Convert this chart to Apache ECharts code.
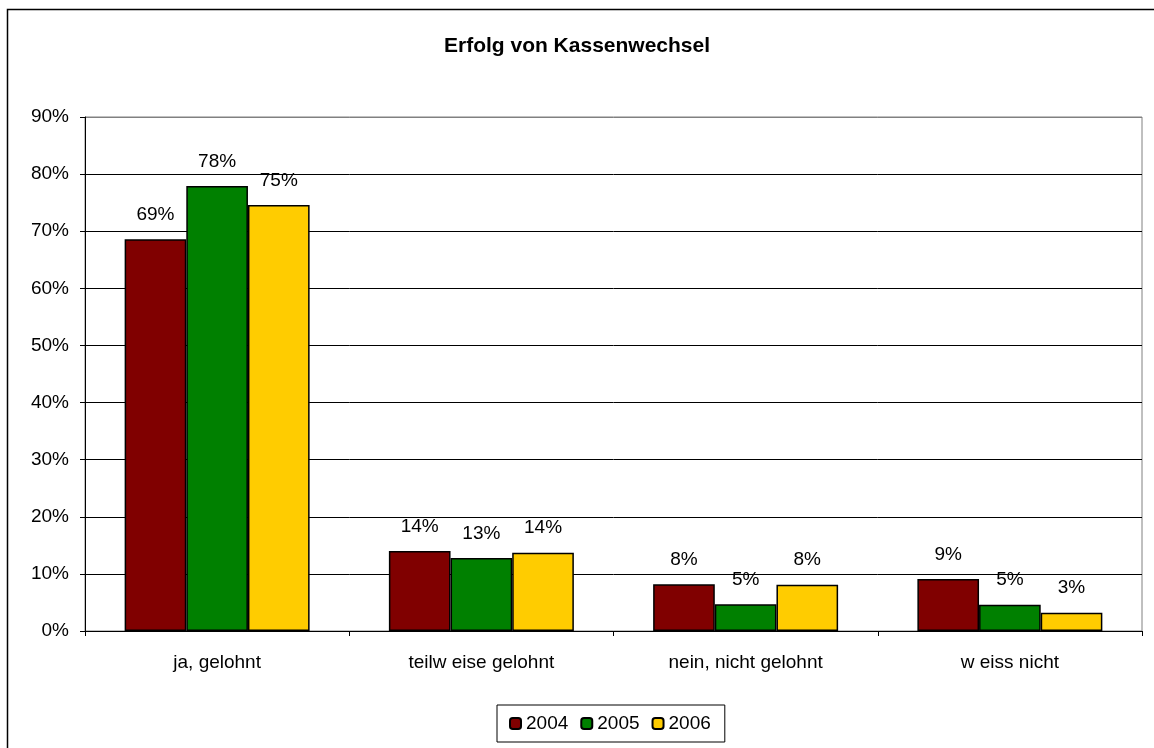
<!DOCTYPE html>
<html>
<head>
<meta charset="utf-8">
<script src="https://cdn.jsdelivr.net/npm/echarts@6/dist/echarts.min.js"></script>
<style>
html,body{margin:0;padding:0;background:#fff;}
#chart{width:1154px;height:748px;}
</style>
</head>
<body>
<div id="chart"></div>
<script>
var categories = ['ja, gelohnt', 'teilw eise gelohnt', 'nein, nicht gelohnt', 'w eiss nicht'];
var years = ['2004', '2005', '2006'];
var values2004 = [0.686, 0.140, 0.082, 0.091];
var values2005 = [0.779, 0.128, 0.047, 0.046];
var values2006 = [0.746, 0.137, 0.081, 0.032];
var colors = ['#800000', '#008000', '#FFCC00'];

var font = 'Liberation Sans, Arial, sans-serif';
var chart = echarts.init(document.getElementById('chart'));
var allValues = [values2004, values2005, values2006];
var series = years.map(function (y, i) {
  return {
    name: y,
    type: 'bar',
    data: allValues[i],
    barGap: '0%',
    barCategoryGap: '30%',
    itemStyle: { color: colors[i], borderColor: '#000', borderWidth: 1.5 },
    label: {
      show: true, position: 'top', distance: 15,
      fontFamily: font, fontSize: 19, color: '#000',
      formatter: function (p) { return Math.round(p.value * 100) + '%'; }
    }
  };
});

var splitColors = ['#000','#000','#000','#000','#000','#000','#000','#000','#000','#808080'];

chart.setOption({
  animation: false,
  title: {
    text: 'Erfolg von Kassenwechsel', left: 'center', top: 31,
    textStyle: { fontFamily: font, fontSize: 21, fontWeight: 'bold', color: '#000' }
  },
  legend: {
    data: years, bottom: 6, left: 497,
    itemWidth: 11, itemHeight: 11, itemGap: 12,
    padding: [9, 14, 9, 12],
    borderColor: '#000', borderWidth: 1,
    textStyle: { fontFamily: font, fontSize: 19, color: '#000' }
  },
  grid: { left: 85, right: 12, top: 117, bottom: 117, show: true, borderColor: '#808080', borderWidth: 1 },
  xAxis: {
    type: 'category', data: categories,
    axisLine: { lineStyle: { color: '#000', width: 1 } },
    axisTick: { show: true, alignWithLabel: false, length: 5, lineStyle: { color: '#000' } },
    axisLabel: { fontFamily: font, fontSize: 19, color: '#000', margin: 22 }
  },
  yAxis: {
    type: 'value', min: 0, max: 0.9, interval: 0.1,
    axisLine: { show: true, lineStyle: { color: '#000', width: 1 } },
    axisTick: { show: true, length: 5, lineStyle: { color: '#000' } },
    splitLine: { lineStyle: { color: splitColors, width: 1 } },
    axisLabel: {
      fontFamily: font, fontSize: 19, color: '#000', margin: 16,
      formatter: function (v) { return Math.round(v * 100) + '%'; }
    }
  },
  graphic: [{
    type: 'rect', left: 5, top: 7,
    shape: { width: 1200, height: 800 },
    style: { fill: 'none', stroke: '#000', lineWidth: 1.5 }, silent: true
  }],
  series: series
});
</script>
</body>
</html>
